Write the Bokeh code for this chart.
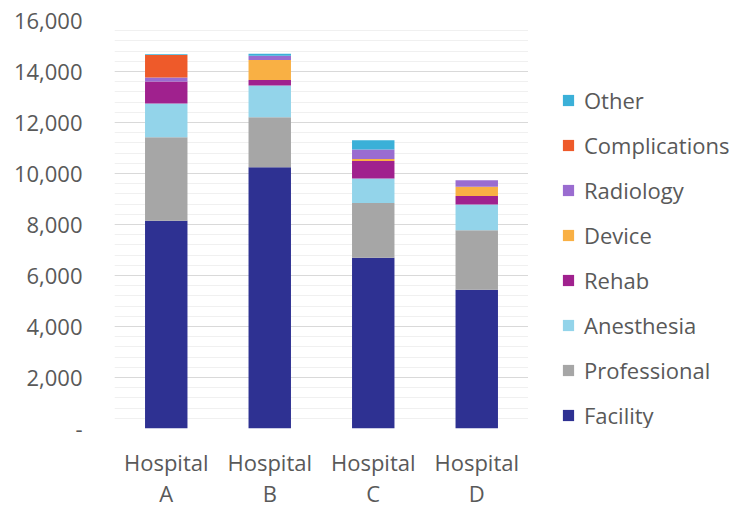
from bokeh.plotting import figure
from bokeh.layouts import row, column
from bokeh.core.properties import value
from bokeh.models import (FixedTicker, NumeralTickFormatter, Legend, LegendItem,
                          FactorRange, Range1d, ColumnDataSource)
from bokeh.embed import file_html
from bokeh.resources import INLINE

hospitals = ["Hospital\nA", "Hospital\nB", "Hospital\nC", "Hospital\nD"]
series = ["Facility", "Professional", "Anesthesia", "Rehab", "Device",
          "Radiology", "Complications", "Other"]
colors = ["#2E3192", "#A6A6A6", "#93D4EA", "#A0218E", "#F9B044",
          "#9A6CD0", "#EE5A2A", "#3BB0D8"]

facility = [8150, 10250, 6700, 5440]
professional = [3270, 1960, 2140, 2330]
anesthesia = [1330, 1240, 960, 1010]
rehab = [860, 220, 690, 340]
device = [0, 780, 80, 360]
radiology = [150, 170, 370, 260]
complications = [890, 0, 0, 0]
other = [30, 80, 360, 0]

y_ticks = [0, 2000, 4000, 6000, 8000, 10000, 12000, 14000, 16000]

source = ColumnDataSource(dict(
    hospital=hospitals, Facility=facility, Professional=professional,
    Anesthesia=anesthesia, Rehab=rehab, Device=device, Radiology=radiology,
    Complications=complications, Other=other))

FONT = "Open Sans"
FS = "22px"
TXT = "#595959"

x_range = FactorRange(*hospitals)

# ---- main chart ----
p = figure(x_range=x_range, y_range=Range1d(0, 16000),
           width=528, height=440, output_backend="svg", toolbar_location=None,
           min_border_left=114, min_border_right=0, min_border_top=20,
           min_border_bottom=12)
p.outline_line_color = None

p.vbar_stack(series, x="hospital", width=0.41, fill_color=colors,
             line_color=None, source=source)

# category labels are drawn in the strip below; the 0 grid line is the baseline
p.xaxis.visible = False

p.yaxis.ticker = FixedTicker(ticks=y_ticks,
                             minor_ticks=list(range(0, 16001, 400)))
p.yaxis.formatter = NumeralTickFormatter(format="0,0")
p.yaxis.major_label_overrides = {0: "-"}
p.yaxis.axis_line_color = None
p.yaxis.major_tick_line_color = None
p.yaxis.minor_tick_line_color = None
p.yaxis.major_tick_out = 0
p.yaxis.major_label_text_font = FONT
p.yaxis.major_label_text_font_size = FS
p.yaxis.major_label_text_color = TXT
p.yaxis.major_label_standoff = 28

p.xgrid.grid_line_color = None
p.ygrid.grid_line_color = "#D9D9D9"
p.ygrid.minor_grid_line_color = "#F0F0F0"

# ---- category labels under the chart (shares the chart's x range) ----
lbl = figure(x_range=x_range, y_range=Range1d(66, 0), width=528, height=66,
             output_backend="svg", toolbar_location=None,
             min_border_left=114, min_border_right=0, min_border_top=0,
             min_border_bottom=0)
lbl.axis.visible = False
lbl.grid.grid_line_color = None
lbl.outline_line_color = None
lbl.text(x="hospital", y=37, text="hospital", source=source,
         text_font=value(FONT), text_font_size=value(FS), text_color=TXT,
         text_align="center", text_baseline="middle", text_line_height=1.05)

# ---- legend panel to the right; its zero-width bars fall outside its canvas ----
lg = figure(width=214, height=440, output_backend="svg", toolbar_location=None,
            min_border_left=0, min_border_right=0, min_border_top=20,
            min_border_bottom=12, x_range=FactorRange(*hospitals),
            y_range=Range1d(100000, 116000))
lg.axis.visible = False
lg.grid.grid_line_color = None
lg.outline_line_color = None
swatches = lg.vbar_stack(series, x="hospital", width=0, fill_color=colors,
                         line_color=None, source=source)

items = [LegendItem(label=s, renderers=[r]) for s, r in zip(series, swatches)]
items.reverse()
legend = Legend(items=items, location=(33, -2), orientation="vertical",
                glyph_width=14, glyph_height=14, label_standoff=9,
                label_text_font=FONT, label_text_font_size=FS,
                label_text_color=TXT, label_height=30, spacing=15,
                padding=0, margin=0, border_line_color=None,
                background_fill_alpha=0)
lg.add_layout(legend)

layout = column(row(p, lg), lbl)
open("out.html", "w").write(file_html(layout, INLINE))
